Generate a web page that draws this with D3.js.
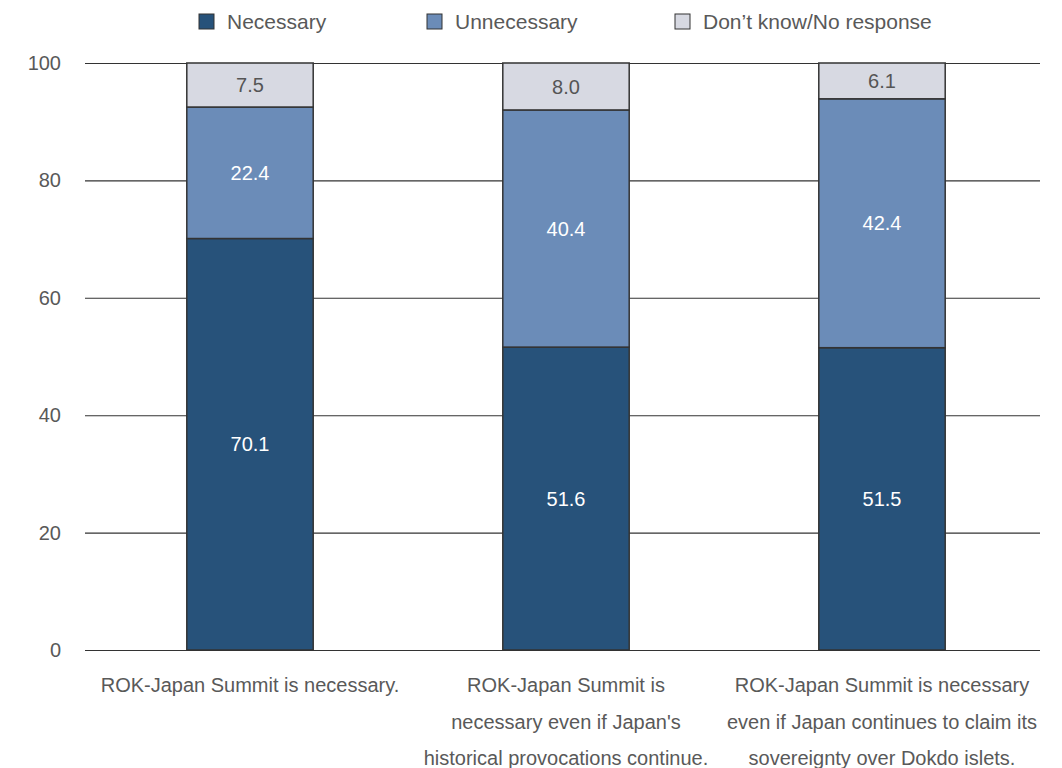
<!DOCTYPE html>
<html>
<head>
<meta charset="utf-8">
<script src="https://cdn.jsdelivr.net/npm/d3@7"></script>
<style>
  html, body { margin: 0; padding: 0; background: #fff; }
  svg { display: block; font-family: "Liberation Sans", Arial, sans-serif; }
</style>
</head>
<body>
<svg id="chart" width="1062" height="768"></svg>
<script>
// Survey responses on the necessity of an ROK-Japan summit (%)
const categories = [
  ["ROK-Japan Summit is necessary."],
  ["ROK-Japan Summit is", "necessary even if Japan's", "historical provocations continue."],
  ["ROK-Japan Summit is necessary", "even if Japan continues to claim its", "sovereignty over Dokdo islets."]
];
const seriesNames = ["Necessary", "Unnecessary", "Don\u2019t know/No response"];
const necessary = [70.1, 51.6, 51.5];
const unnecessary = [22.4, 40.4, 42.4];
const dontKnow = [7.5, 8.0, 6.1];
const yTicks = [0, 20, 40, 60, 80, 100];

const colors = ["#27527a", "#6b8cb8", "#d7d9e2"];
const labelColors = ["#ffffff", "#ffffff", "#555555"];
const textColor = "#595959";

const svg = d3.select("#chart");
const plot = { left: 85, right: 1040, top: 63, bottom: 650 };

const x = d3.scaleBand()
  .domain(d3.range(categories.length))
  .range([92, 1040])
  .paddingInner(0.6)
  .paddingOuter(0.3);

const y = d3.scaleLinear().domain([0, 100]).range([plot.bottom, plot.top]);

// gridlines and y tick labels
const yAxis = d3.axisLeft(y)
  .tickValues(yTicks)
  .tickSize(-(plot.right - plot.left))
  .tickPadding(24)
  .tickFormat(d3.format("d"));

const gy = svg.append("g")
  .attr("transform", `translate(${plot.left},0)`)
  .call(yAxis);
gy.select(".domain").remove();
gy.selectAll(".tick line").attr("stroke", "#333").attr("stroke-width", 1.1);
gy.selectAll(".tick text")
  .attr("fill", textColor)
  .style("font-size", "20px")
  .style("font-family", "'Liberation Sans', Arial, sans-serif");

// stacked data
const rows = categories.map((c, i) => ({ i, values: [necessary[i], unnecessary[i], dontKnow[i]] }));
const stack = d3.stack().keys([0, 1, 2]).value((d, k) => d.values[k]);
const stacked = stack(rows);

const layers = svg.append("g").selectAll("g")
  .data(stacked)
  .join("g");

layers.selectAll("rect")
  .data((s, k) => s.map(d => ({ d, k })))
  .join("rect")
  .attr("x", o => x(o.d.data.i))
  .attr("width", x.bandwidth())
  .attr("y", o => y(o.d[1]))
  .attr("height", o => y(o.d[0]) - y(o.d[1]))
  .attr("fill", o => colors[o.k])
  .attr("stroke", "#333")
  .attr("stroke-width", 1.5);

layers.selectAll("text")
  .data((s, k) => s.map(d => ({ d, k })))
  .join("text")
  .attr("x", o => x(o.d.data.i) + x.bandwidth() / 2)
  .attr("y", o => (y(o.d[0]) + y(o.d[1])) / 2)
  .attr("dy", "0.36em")
  .attr("text-anchor", "middle")
  .attr("fill", o => labelColors[o.k])
  .style("font-size", "20px")
  .text(o => d3.format(".1f")(o.d.data.values[o.k]));

// category labels
const cat = svg.append("g").selectAll("text")
  .data(categories)
  .join("text")
  .attr("x", (d, i) => x(i) + x.bandwidth() / 2)
  .attr("y", 692)
  .attr("text-anchor", "middle")
  .attr("fill", textColor)
  .style("font-size", "20px");
cat.selectAll("tspan")
  .data(d => d)
  .join("tspan")
  .attr("x", function () { return d3.select(this.parentNode).attr("x"); })
  .attr("dy", (d, j) => j === 0 ? 0 : 36.5)
  .text(d => d);

// legend
const legendX = [199, 427, 675];
const legend = svg.append("g").selectAll("g")
  .data(seriesNames)
  .join("g")
  .attr("transform", (d, i) => `translate(${legendX[i]},14)`);
legend.append("rect")
  .attr("width", 15).attr("height", 15)
  .attr("fill", (d, i) => colors[i])
  .attr("stroke", "#333").attr("stroke-width", 1);
legend.append("text")
  .attr("x", 28).attr("y", 15)
  .attr("fill", textColor)
  .style("font-size", "21px")
  .text(d => d);
</script>
</body>
</html>
